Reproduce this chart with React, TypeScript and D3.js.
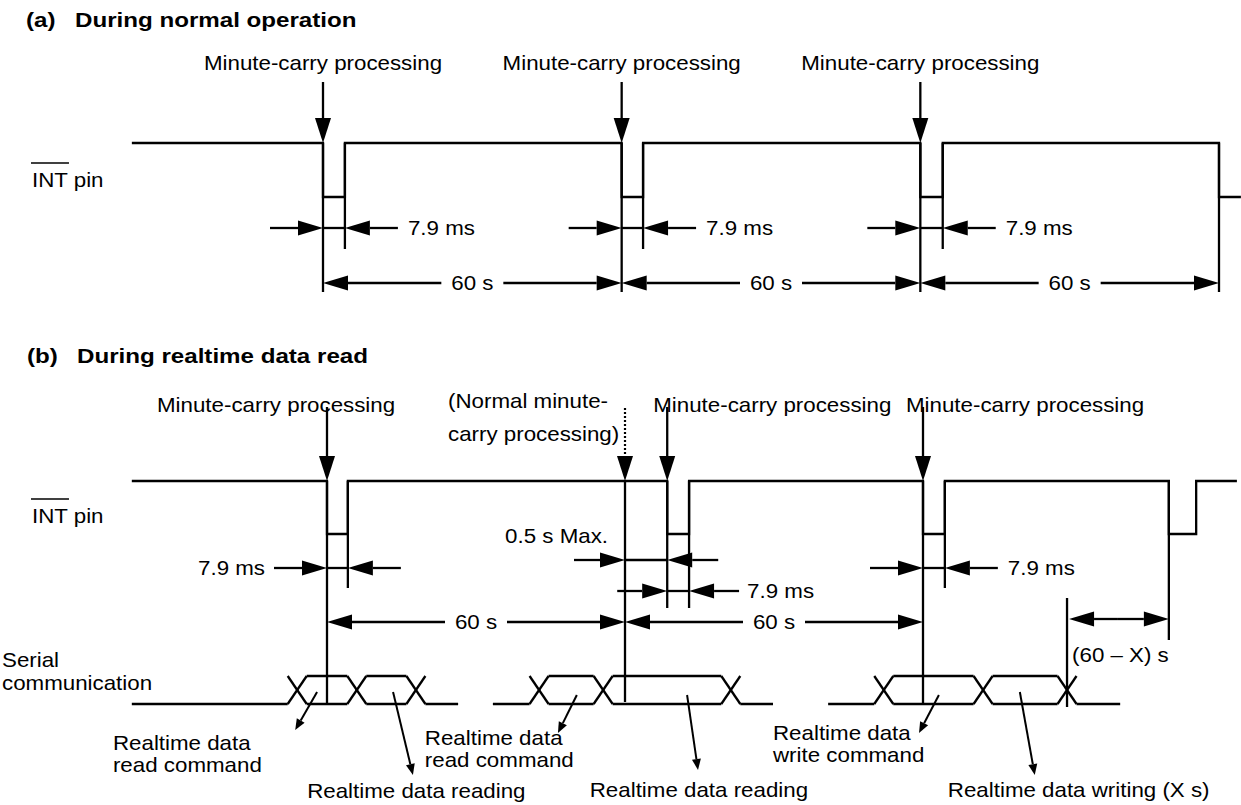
import React from 'react';
import * as d3 from 'd3';

// (a) During normal operation - times in schematic seconds (7.9 ms pulse drawn wide)
const aCarry = [0, 60, 120];
const aRelease = [4.4, 64.3, 124.5];
const aNextFall = 180;
const aStart = -38.4;
const aEnd = 184.4;
const aPeriodLabels = ['60 s', '60 s', '60 s'];

// (b) During realtime data read
const bNormalCarry = 60;
const bCarry = [0, 68.5, 120];
const bRelease = [4.2, 72.9, 124.4];
const bPulse = [169.5, 175];
const bStart = -39.3;
const bEnd = 183.2;
const bPeriodLabels = ['60 s', '60 s'];
const bWriteEnd = 149;

// serial communication frames: idle start, X crossings, idle end
const busStart = [-39.3, 33.4, 100.9];
const busCross = [[-6, 6, 17.9], [42.7, 55.6, 81.3], [112.1, 132.1, 149]];
const busEnd = [26.4, 89.8, 159.7];

// pointers from the bus to the captions
const pointerFrom = [-2, 13.3, 50.3, 72.5, 123.2, 139.5];
const pointerTo = [-6.4, 17.3, 46.5, 74.7, 119.2, 142.5];
const captions = [
  ['Realtime data', 'read command'],
  ['Realtime data reading'],
  ['Realtime data', 'read command'],
  ['Realtime data reading'],
  ['Realtime data', 'write command'],
  ['Realtime data writing (X s)'],
];
const captionAt = [-43.1, -4.0, 19.7, 52.9, 89.8, 125.0];

const CARRY = 'Minute-carry processing';
const PULSE = '7.9 ms';

// layout
const W = 1241;
const H = 805;
const SX = 1.1;
const FS = 20.3;
const FONT = '"Liberation Sans", Arial, Helvetica, sans-serif';
const SW = 2.3;
const pointerY0 = [692, 692, 695, 695, 695, 692];
const pointerY1 = [730, 775, 733, 770, 733, 775];
const captionY = [750, 798, 745, 797, 740, 797];
const bLabelDx = [-170, -14, -17];

const xA = d3.scaleLinear().domain([0, 180]).range([323, 1219]);
const xB = d3.scaleLinear().domain([0, 120]).range([327, 923]);

const T = ({ x, y, children, anchor = 'start', bold = false, sx = SX, fs = FS }: any) => (
  <text transform={`translate(${x},${y}) scale(${sx},1)`} textAnchor={anchor}
    fontSize={fs} fontWeight={bold ? 'bold' : 'normal'} fontFamily={FONT} fill="#000">
    {children}
  </text>
);

const Arrow = ({ x1, y1, x2, y2, len = 25, hw = 7.5, dash, sw = SW }: any) => {
  const a = Math.atan2(y2 - y1, x2 - x1);
  const bx = x2 - len * Math.cos(a);
  const by = y2 - len * Math.sin(a);
  const nx = -Math.sin(a) * hw;
  const ny = Math.cos(a) * hw;
  return (
    <g>
      <line x1={x1} y1={y1} x2={bx} y2={by} stroke="#000" strokeWidth={sw} strokeDasharray={dash} />
      <polygon points={`${x2},${y2} ${bx + nx},${by + ny} ${bx - nx},${by - ny}`} fill="#000" />
    </g>
  );
};

const L = ({ x1, y1, x2, y2, sw = SW }: any) => (
  <line x1={x1} y1={y1} x2={x2} y2={y2} stroke="#000" strokeWidth={sw} />
);

// pulse width dimension: arrows from outside pointing at both edges
const PulseDim = ({ x1, x2, y, label, side = 'right', gap = 53 }: any) => (
  <g>
    <Arrow x1={x1 - gap} y1={y} x2={x1} y2={y} />
    <L x1={x1} y1={y} x2={x2} y2={y} />
    <Arrow x1={x2 + gap} y1={y} x2={x2} y2={y} />
    {label && (side === 'right'
      ? <T x={x2 + gap + 10} y={y + 7}>{label}</T>
      : <T x={x1 - gap - 9} y={y + 7} anchor="end">{label}</T>)}
  </g>
);

// period dimension: arrows pointing outward, text in the middle
const PeriodDim = ({ x1, x2, y, label }: any) => {
  const m = (x1 + x2) / 2;
  return (
    <g>
      <Arrow x1={m - 31} y1={y} x2={x1} y2={y} />
      <Arrow x1={m + 31} y1={y} x2={x2} y2={y} />
      <T x={m} y={y + 7} anchor="middle">{label}</T>
    </g>
  );
};

const IntLabel = ({ y }: any) => (
  <g>
    <T x={32} y={y}>INT pin</T>
    <L x1={31} y1={y - 24} x2={33 + 1.611 * FS * SX} y2={y - 24} sw={1.6} />
  </g>
);

const line = d3.line();

export default function App() {
  // (a) INT waveform
  const aHi = 143, aLo = 197;
  const aPts: [number, number][] = [[xA(aStart), aHi]];
  aCarry.forEach((c, i) => {
    aPts.push([xA(c), aHi], [xA(c), aLo], [xA(aRelease[i]), aLo], [xA(aRelease[i]), aHi]);
  });
  aPts.push([xA(aNextFall), aHi], [xA(aNextFall), aLo], [xA(aEnd), aLo]);
  const aEdges = [...aCarry, aNextFall];

  // (b) INT waveform
  const bHi = 481, bLo = 534;
  const bPts: [number, number][] = [[xB(bStart), bHi]];
  bCarry.forEach((c, i) => {
    bPts.push([xB(c), bHi], [xB(c), bLo], [xB(bRelease[i]), bLo], [xB(bRelease[i]), bHi]);
  });
  bPts.push([xB(bPulse[0]), bHi], [xB(bPulse[0]), bLo], [xB(bPulse[1]), bLo], [xB(bPulse[1]), bHi], [xB(bEnd), bHi]);

  const busHi = 676, busLo = 704, hx = 9.5;
  const busLines: any[] = [];
  busStart.forEach((s, f) => {
    const cs = busCross[f].map(xB);
    busLines.push([[xB(s), busLo], [cs[0] - hx, busLo]]);
    cs.forEach((c, i) => {
      busLines.push([[c - hx, busLo], [c + hx, busHi]]);
      busLines.push([[c - hx, busHi], [c + hx, busLo]]);
      if (i < cs.length - 1) {
        busLines.push([[c + hx, busHi], [cs[i + 1] - hx, busHi]]);
        busLines.push([[c + hx, busLo], [cs[i + 1] - hx, busLo]]);
      }
    });
    busLines.push([[cs[cs.length - 1] + hx, busLo], [xB(busEnd[f]), busLo]]);
  });

  const xn = xB(bNormalCarry);
  const xw = xB(bWriteEnd);
  const xp = xB(bPulse[0]);

  return (
    <svg width={W} height={H} style={{ position: 'absolute', left: 0, top: 0, background: '#fff' }}>
      {/* ---------- (a) ---------- */}
      <T x={26} y={27} bold sx={1.15} fs={21}>(a)</T>
      <T x={75} y={27} bold sx={1.15} fs={21}>During normal operation</T>
      <IntLabel y={187} />
      {aCarry.map((c, i) => (
        <g key={'ac' + i}>
          <T x={xA(c)} y={70} anchor="middle">{CARRY}</T>
          <Arrow x1={xA(c)} y1={82} x2={xA(c)} y2={aHi} hw={8} />
          <L x1={xA(aRelease[i])} y1={aHi} x2={xA(aRelease[i])} y2={249} />
          <PulseDim x1={xA(c)} x2={xA(aRelease[i])} y={228} label={PULSE} />
        </g>
      ))}
      {aEdges.map((c, i) => (
        <L key={'ae' + i} x1={xA(c)} y1={aHi} x2={xA(c)} y2={292} />
      ))}
      {aPeriodLabels.map((lab, i) => (
        <PeriodDim key={'ap' + i} x1={xA(aEdges[i])} x2={xA(aEdges[i + 1])} y={283} label={lab} />
      ))}
      <path d={line(aPts) || ''} fill="none" stroke="#000" strokeWidth={SW} />

      {/* ---------- (b) ---------- */}
      <T x={27} y={363} bold sx={1.15} fs={21}>(b)</T>
      <T x={77} y={363} bold sx={1.15} fs={21}>During realtime data read</T>
      <IntLabel y={523} />
      {bCarry.map((c, i) => (
        <g key={'bc' + i}>
          <T x={xB(c) + bLabelDx[i]} y={412}>{CARRY}</T>
          <Arrow x1={xB(c)} y1={407} x2={xB(c)} y2={bHi} hw={8} />
        </g>
      ))}
      <T x={448} y={408}>(Normal minute-</T>
      <T x={448} y={441}>carry processing)</T>
      <line x1={xn} y1={408} x2={xn} y2={457} stroke="#000" strokeWidth={2.2} strokeDasharray="2,2" />
      <Arrow x1={xn} y1={457} x2={xn} y2={bHi} hw={8} />

      {/* edges and extension lines */}
      <L x1={xB(bCarry[0])} y1={bHi} x2={xB(bCarry[0])} y2={busLo} />
      <L x1={xn} y1={bHi} x2={xn} y2={busLo - 2} />
      <L x1={xB(bCarry[2])} y1={bHi} x2={xB(bCarry[2])} y2={busLo} />
      <L x1={xB(bRelease[0])} y1={bHi} x2={xB(bRelease[0])} y2={588} />
      <L x1={xB(bRelease[2])} y1={bHi} x2={xB(bRelease[2])} y2={588} />
      <L x1={xB(bCarry[1])} y1={bHi} x2={xB(bCarry[1])} y2={608} />
      <L x1={xB(bRelease[1])} y1={bHi} x2={xB(bRelease[1])} y2={608} />
      <L x1={xp} y1={bHi} x2={xp} y2={640} />
      <L x1={xw} y1={598} x2={xw} y2={707} />

      <path d={line(bPts) || ''} fill="none" stroke="#000" strokeWidth={SW} />

      <PulseDim x1={xB(bCarry[0])} x2={xB(bRelease[0])} y={568} label={PULSE} side="left" />
      <PulseDim x1={xB(bCarry[2])} x2={xB(bRelease[2])} y={568} label={PULSE} />
      <PulseDim x1={xn} x2={xB(bCarry[1])} y={560} gap={51} />
      <T x={xn - 17} y={543} anchor="end">0.5 s Max.</T>
      <PulseDim x1={xB(bCarry[1])} x2={xB(bRelease[1])} y={591} gap={50} />
      <T x={xB(bRelease[1]) + 58} y={598}>{PULSE}</T>

      {bPeriodLabels.map((lab, i) => (
        <PeriodDim key={'bp' + i} x1={xB(i * 60)} x2={xB(i * 60 + 60)} y={622} label={lab} />
      ))}

      {/* (60 - X) s */}
      <Arrow x1={(xw + xp) / 2} y1={619} x2={xw + 2} y2={619} />
      <Arrow x1={(xw + xp) / 2} y1={619} x2={xp} y2={619} />
      <T x={xw + 5} y={662}>(60 – X) s</T>

      {/* serial communication */}
      <T x={2} y={667}>Serial</T>
      <T x={2} y={690}>communication</T>
      {busLines.map((s, i) => (
        <L key={'bus' + i} x1={s[0][0]} y1={s[0][1]} x2={s[1][0]} y2={s[1][1]} />
      ))}
      {pointerFrom.map((p, i) => (
        <Arrow key={'pt' + i} x1={xB(p)} y1={pointerY0[i]} x2={xB(pointerTo[i])} y2={pointerY1[i]}
          len={11} hw={4.5} sw={2} />
      ))}
      {captions.map((lines, i) => (
        <g key={'cap' + i}>
          {lines.map((t, j) => (
            <T key={j} x={xB(captionAt[i])} y={captionY[i] + j * 22}>{t}</T>
          ))}
        </g>
      ))}
    </svg>
  );
}
